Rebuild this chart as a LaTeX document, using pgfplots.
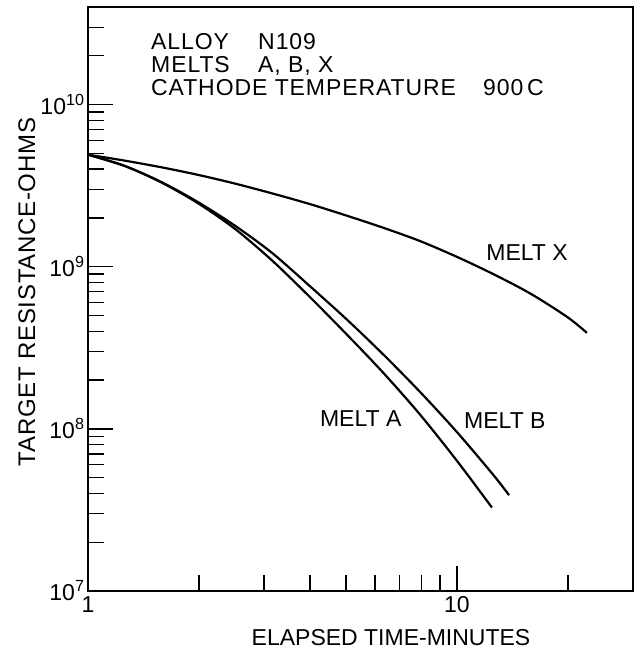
\documentclass[border=0pt]{standalone}
\usepackage{fontspec}
\setmainfont{Liberation Sans}
\usepackage{pgfplots}
\pgfplotsset{compat=1.18}
\newcommand{\lab}{\fontsize{23}{26}\selectfont}
\newcommand{\labs}{\fontsize{23}{26}\selectfont\addfontfeature{LetterSpace=4}}
\begin{document}
\begin{tikzpicture}
\useasboundingbox (-88pt,-62pt) rectangle (553pt,591pt);
\begin{axis}[
  scale only axis, width=545pt, height=584pt,
  xmode=log, ymode=log,
  xmin=1, xmax=30, ymin=1e7, ymax=4e10,
  axis line style={line width=1.5pt},
  tick align=inside,
  xtick pos=left, ytick pos=left,
  major tick length=25pt, minor tick length=16pt,
  every tick/.style={line width=1.3pt, black},
  xtick={1,10}, xticklabels={1,10},
  minor xtick={2,3,4,5,6,7,8,9,20},
  ytick={1e7,1e8,1e9,1e10},
  yticklabels={10\textsuperscript{7},10\textsuperscript{8},10\textsuperscript{9},10\textsuperscript{10}},
  minor ytick={2e7,3e7,4e7,5e7,6e7,7e7,8e7,9e7,2e8,3e8,4e8,5e8,6e8,7e8,8e8,9e8,2e9,3e9,4e9,5e9,6e9,7e9,8e9,9e9,2e10,3e10},
  ticklabel style={font=\lab},
  xticklabel style={yshift=-2pt},
  clip=false,
]
% Melt X
\addplot[black, line width=2.2pt, smooth] coordinates {
(1,4.91e9) (1.259,4.51e9) (1.585,4.10e9) (1.995,3.68e9) (2.512,3.25e9) (3.162,2.83e9) (3.981,2.44e9) (5.012,2.07e9) (6.310,1.74e9) (7.943,1.44e9) (10,1.15e9) (12.59,8.97e8) (15.85,6.81e8) (19.95,4.88e8) (22.5,3.91e8)};
% Melt A
\addplot[black, line width=2.2pt, smooth] coordinates {
(1,4.91e9) (1.259,4.18e9) (1.585,3.30e9) (1.995,2.45e9) (2.512,1.70e9) (3.162,1.087e9) (3.981,6.55e8) (5.012,3.85e8) (6.310,2.22e8) (7.943,1.225e8) (10,6.35e7) (12.44,3.27e7)};
% Melt B
\addplot[black, line width=2.2pt, smooth] coordinates {
(1,4.91e9) (1.259,4.18e9) (1.585,3.32e9) (1.995,2.49e9) (2.512,1.78e9) (3.162,1.211e9) (3.981,7.64e8) (5.012,4.76e8) (6.310,2.88e8) (7.943,1.69e8) (10,9.55e7) (12.59,5.15e7) (13.84,3.90e7)};
\node[anchor=west, inner sep=0, font=\lab] at (axis cs:12,1.22e9) {MELT X};
\node[anchor=west, inner sep=0, font=\lab] at (axis cs:4.25,1.15e8) {MELT A};
\node[anchor=west, inner sep=0, font=\lab] at (axis cs:10.45,1.12e8) {MELT B};
\node[anchor=base west, inner sep=0, font=\labs] at (rel axis cs:0.1156,0.928) {ALLOY};
\node[anchor=base west, inner sep=0, font=\labs] at (rel axis cs:0.312,0.928) {N109};
\node[anchor=base west, inner sep=0, font=\labs] at (rel axis cs:0.1156,0.8886) {MELTS};
\node[anchor=base west, inner sep=0, font=\labs] at (rel axis cs:0.312,0.8886) {A, B, X};
\node[anchor=base west, inner sep=0, font=\labs] at (rel axis cs:0.1156,0.8492) {CATHODE TEMPERATURE};
\node[anchor=base west, inner sep=0, font=\labs] at (rel axis cs:0.7248,0.8492) {900\,C};
\node[inner sep=0, font=\lab] at (rel axis cs:0.556,-0.0805) {ELAPSED TIME-MINUTES};
\node[inner sep=0, rotate=90, font=\fontsize{24}{26}\selectfont\addfontfeature{LetterSpace=3}] at (rel axis cs:-0.112,0.512) {TARGET RESISTANCE-OHMS};
\end{axis}
\end{tikzpicture}
\end{document}
